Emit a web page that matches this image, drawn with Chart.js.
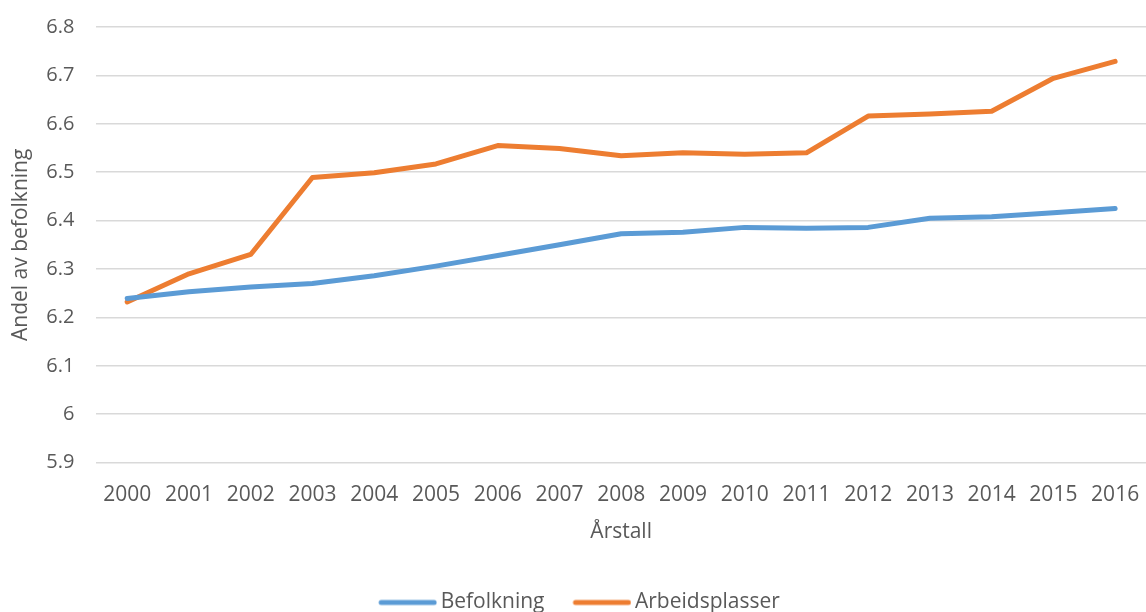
<!DOCTYPE html>
<html>
<head>
<meta charset="utf-8">
<script src="https://cdn.jsdelivr.net/npm/chart.js@4.4.1/dist/chart.umd.min.js"></script>
<style>
  html, body { margin: 0; padding: 0; background: #fff; overflow: hidden; }
  #wrap { width: 1146px; height: 623px; position: relative; }
</style>
</head>
<body>
<div id="wrap"><canvas id="andelChart"></canvas></div>
<script>
// Årstall på x-aksen
const aar = ['2000', '2001', '2002', '2003', '2004', '2005', '2006', '2007', '2008',
             '2009', '2010', '2011', '2012', '2013', '2014', '2015', '2016'];

// Andel av befolkning (prosent)
const befolkning = [6.239, 6.253, 6.263, 6.270, 6.286, 6.306, 6.328, 6.350, 6.373,
                    6.376, 6.386, 6.384, 6.386, 6.405, 6.408, 6.416, 6.425];
const arbeidsplasser = [6.232, 6.290, 6.330, 6.489, 6.499, 6.517, 6.555, 6.549, 6.534,
                        6.540, 6.537, 6.540, 6.616, 6.620, 6.626, 6.694, 6.729];

const yMin = 5.9;
const yMax = 6.8;

const tekstFarge = '#595959';
const font = 'Open Sans, sans-serif';

// Legendesymbol: en strek, litt forskjøvet mot teksten
function legendeStrek(farge) {
    const c = document.createElement('canvas');
    c.width = 70;
    c.height = 10;
    const g = c.getContext('2d');
    g.strokeStyle = farge;
    g.lineWidth = 5;
    g.lineCap = 'round';
    g.beginPath();
    g.moveTo(14, 5);
    g.lineTo(67, 5);
    g.stroke();
    return c;
}

// Ingen ekstra luft rundt aksene, plottet skal gå helt ut til kanten
function nullPadding(scale) {
    scale.paddingLeft = 0;
    scale.paddingRight = 0;
    scale.paddingTop = 0;
    scale.paddingBottom = 0;
}

const ctx = document.getElementById('andelChart').getContext('2d');
new Chart(ctx, {
    type: 'line',
    data: {
        labels: aar,
        datasets: [
            {
                label: 'Befolkning',
                data: befolkning,
                borderColor: '#5b9bd5',
                backgroundColor: '#5b9bd5',
                borderWidth: 5,
                borderCapStyle: 'round',
                borderJoinStyle: 'round',
                pointRadius: 0,
                pointStyle: legendeStrek('#5b9bd5'),
                tension: 0
            },
            {
                label: 'Arbeidsplasser',
                data: arbeidsplasser,
                borderColor: '#ed7d31',
                backgroundColor: '#ed7d31',
                borderWidth: 5,
                borderCapStyle: 'round',
                borderJoinStyle: 'round',
                pointRadius: 0,
                pointStyle: legendeStrek('#ed7d31'),
                tension: 0
            }
        ]
    },
    options: {
        responsive: true,
        maintainAspectRatio: false,
        animation: false,
        layout: {
            padding: { top: 27, right: 0, left: 8, bottom: 0 }
        },
        scales: {
            x: {
                offset: true,
                afterFit: nullPadding,
                grid: { display: false, drawTicks: false },
                border: { display: false },
                ticks: {
                    color: tekstFarge,
                    padding: 19.5,
                    maxRotation: 0,
                    autoSkip: false,
                    font: { family: font, size: 21 }
                },
                title: {
                    display: true,
                    text: 'Årstall',
                    color: tekstFarge,
                    padding: { top: -7, bottom: 23 },
                    font: { family: font, size: 21 }
                }
            },
            y: {
                min: yMin,
                max: yMax,
                afterFit: nullPadding,
                grid: { color: '#d9d9d9', lineWidth: 1.5, drawTicks: false },
                border: { display: false },
                ticks: {
                    stepSize: 0.1,
                    color: tekstFarge,
                    padding: 22,
                    font: { family: font, size: 20 },
                    callback: function(v) {
                        return String(Number(v.toFixed(1)));
                    }
                },
                title: {
                    display: true,
                    text: 'Andel av befolkning',
                    color: tekstFarge,
                    padding: { top: 0, bottom: -9 },
                    font: { family: font, size: 21 }
                }
            }
        },
        plugins: {
            legend: {
                position: 'bottom',
                labels: {
                    usePointStyle: true,
                    pointStyleWidth: 56,
                    boxHeight: 21,
                    padding: 24,
                    color: tekstFarge,
                    font: { family: font, size: 21 }
                }
            },
            tooltip: { enabled: false }
        }
    }
});
</script>
</body>
</html>
